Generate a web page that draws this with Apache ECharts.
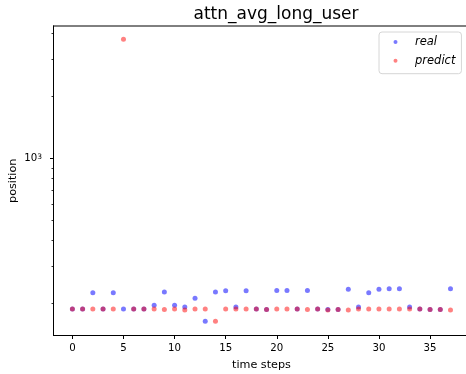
<!DOCTYPE html>
<html>
<head>
<meta charset="utf-8">
<script src="https://cdn.jsdelivr.net/npm/echarts@6/dist/echarts.min.js"></script>
<style>
  html, body { margin: 0; padding: 0; background: #fff; }
  #chart { width: 466px; height: 374px; }
</style>
</head>
<body>
<div id="chart"></div>
<script>
// time step index for every sample
const steps = [
  0, 1, 2, 3, 4, 5, 6, 7, 8, 9,
  10, 11, 12, 13, 14, 15, 16, 17, 18, 19,
  20, 21, 22, 23, 24, 25, 26, 27, 28, 29,
  30, 31, 32, 33, 34, 35, 36, 37
];
// observed positions
const realValues = [
  187, 187, 224, 187, 224, 187, 187, 187, 195, 226,
  195, 191, 211, 163, 226, 229, 191, 229, 187, 186,
  230, 230, 187, 230, 187, 186, 186, 233, 191, 224,
  233, 234, 234, 191, 187, 186, 186, 234
];
// predicted positions
const predictValues = [
  187, 187, 187, 187, 187, 3758, 187, 187, 187, 186,
  187, 185, 187, 187, 163, 187, 187, 187, 187, 186,
  187, 187, 187, 186, 187, 185, 186, 185, 187, 187,
  187, 187, 187, 187, 187, 186, 186, 185
];
// axis ticks
const xTicks = [0, 5, 10, 15, 20, 25, 30, 35];
const yMajorTicks = [1000];
const yMinorTicks = [200, 300, 400, 500, 600, 700, 800, 900, 2000, 3000, 4000];

const FONT = 'DejaVu Sans';
const pair = (ys) => steps.map((t, i) => [t, ys[i]]);

const X_MIN = -1.85, X_MAX = 38.85;
const Y_MIN = 139.3, Y_MAX = 4355;

const chart = echarts.init(document.getElementById('chart'), null, { renderer: 'canvas' });

const logAxisBase = {
  type: 'log',
  logBase: 10,
  min: Y_MIN,
  max: Y_MAX,
  position: 'left',
  splitLine: { show: false },
  minorTick: { show: false },
  axisLine: { show: true, onZero: false, lineStyle: { color: '#000', width: 1 } }
};

chart.setOption({
  animation: false,
  backgroundColor: '#fff',
  title: {
    text: 'attn_avg_long_user',
    left: 271,
    textAlign: 'center',
    top: 1,
    textStyle: { fontFamily: FONT, fontSize: 17, fontWeight: 'normal', color: '#000' }
  },
  legend: {
    orient: 'vertical',
    left: 379,
    top: 32,
    padding: [3, 6, 6, 14.5],
    itemGap: 4.7,
    itemWidth: 4,
    itemHeight: 4,
    backgroundColor: '#fff',
    borderColor: '#d6d6d6',
    borderWidth: 1,
    borderRadius: 3,
    textStyle: {
      fontFamily: FONT, fontSize: 11.5, fontStyle: 'italic', color: '#000',
      lineHeight: 14, padding: [0, 0, 0, 12.5]
    },
    data: [
      { name: 'real', icon: 'circle' },
      { name: 'predict', icon: 'circle' }
    ]
  },
  grid: {
    left: 53.5,
    top: 26,
    width: 415.9,
    height: 309.5,
    show: true,
    borderColor: '#000',
    borderWidth: 1,
    containLabel: false,
    outerBoundsMode: 'none'
  },
  xAxis: {
    type: 'value',
    min: X_MIN,
    max: X_MAX,
    name: 'time steps',
    nameLocation: 'middle',
    nameGap: 24,
    nameMoveOverlap: false,
    nameTextStyle: { fontFamily: FONT, fontSize: 11.2, color: '#000' },
    splitLine: { show: false },
    axisLine: { show: true, onZero: false, lineStyle: { color: '#000', width: 1 } },
    axisTick: { show: true, inside: false, length: 3.5, customValues: xTicks, lineStyle: { color: '#000' } },
    axisLabel: { customValues: xTicks, margin: 8, fontFamily: FONT, fontSize: 10.2, color: '#000' }
  },
  yAxis: [
    Object.assign({}, logAxisBase, {
      name: 'position',
      nameLocation: 'middle',
      nameGap: 35,
      nameMoveOverlap: false,
      nameTextStyle: { fontFamily: FONT, fontSize: 11.2, color: '#000' },
      axisTick: { show: true, length: 3.5, customValues: yMajorTicks, lineStyle: { color: '#000' } },
      axisLabel: {
        customValues: yMajorTicks,
        margin: 11.5,
        formatter: (v) => '{m|10}{e|' + Math.round(Math.log10(v)) + '}',
        rich: {
          m: { fontFamily: FONT, fontSize: 10.2, color: '#000' },
          e: { fontFamily: FONT, fontSize: 7.5, color: '#000', verticalAlign: 'top' }
        }
      }
    }),
    Object.assign({}, logAxisBase, {
      offset: 0,
      axisTick: { show: true, length: 2, customValues: yMinorTicks, lineStyle: { color: '#000', width: 0.8 } },
      axisLabel: { show: false }
    })
  ],
  series: [
    {
      name: 'real',
      type: 'scatter',
      yAxisIndex: 0,
      data: pair(realValues),
      symbol: 'circle',
      symbolSize: 5,
      itemStyle: { color: 'rgba(0,0,255,0.66)' }
    },
    {
      name: 'predict',
      type: 'scatter',
      yAxisIndex: 0,
      data: pair(predictValues),
      symbol: 'circle',
      symbolSize: 5,
      itemStyle: { color: 'rgba(255,0,0,0.62)' }
    }
  ]
});
</script>
</body>
</html>
